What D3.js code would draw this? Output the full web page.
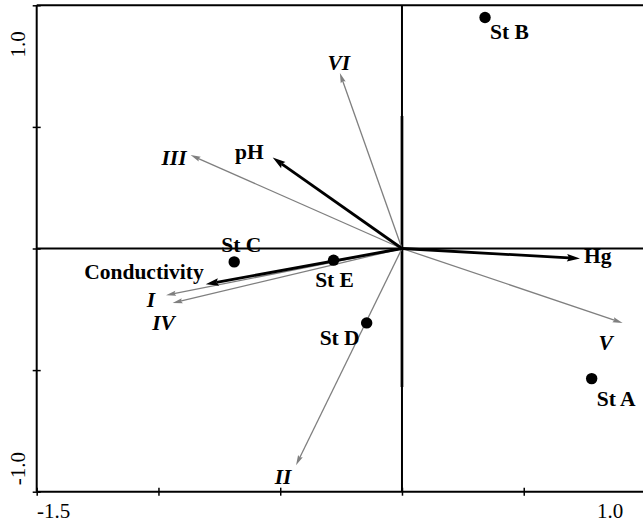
<!DOCTYPE html>
<html>
<head>
<meta charset="utf-8">
<script src="https://cdn.jsdelivr.net/npm/d3@7"></script>
<style>
  body { margin: 0; background: #fff; }
  svg { display: block; }
  text { font-family: "Liberation Serif", "Times New Roman", serif; }
  .lbl { font-weight: bold; font-size: 21.5px; }
  .sp { font-style: italic; }
  .tickLabel { font-size: 21px; }
</style>
</head>
<body>
<div id="container"></div>
<script>
// stations (sample scores)
const stations = ["St A", "St B", "St C", "St D", "St E"];
const stationX = [0.779, 0.341, -0.689, -0.145, -0.281];
const stationY = [-0.535, 0.950, -0.055, -0.306, -0.048];

// environmental variables (black arrows)
const envVars = ["Hg", "pH", "Conductivity"];
const envX = [0.731, -0.531, -0.806];
const envY = [-0.041, 0.374, -0.147];

// species (grey arrows)
const species = ["I", "II", "III", "IV", "V", "VI"];
const speciesX = [-0.969, -0.435, -0.868, -0.942, 0.906, -0.255];
const speciesY = [-0.192, -0.891, 0.384, -0.224, -0.306, 0.722];

const xTicks = [-1.5, -1.0, -0.5, 0, 0.5, 1.0];
const yTicks = [-1.0, -0.5, 0, 0.5, 1.0];
const xEndLabels = ["-1.5", "1.0"];
const yEndLabels = ["-1.0", "1.0"];

const width = 643, height = 525;

// label placement: [anchor, dx, dy] relative to the point / arrow tip
const labelPos = {
  "St A": ["start", 5, 27], "St B": ["start", 5, 22], "St C": ["middle", 7, -10],
  "St D": ["end", -7, 22], "St E": ["middle", 1, 27],
  "Hg": ["start", 4, 5], "pH": ["end", -9, 1], "Conductivity": ["end", -2, -5],
  "I": ["middle", -15, 12], "II": ["middle", -13, 19], "III": ["end", -4, 10],
  "IV": ["middle", -9, 27], "V": ["middle", -17, 27], "VI": ["middle", -1, -3]
};

const x = d3.scaleLinear().domain([-1.5, 1.0]).range([36.7, 645.5]);
const y = d3.scaleLinear().domain([-1.0, 1.0]).range([491.7, 5.3]);

const svg = d3.select("#container").append("svg")
  .attr("width", width).attr("height", height);

// frame / axes
const axisG = svg.append("g").attr("stroke", "#000").attr("fill", "none");
axisG.append("line").attr("x1", x(-1.5)).attr("x2", width).attr("y1", y(-1)).attr("y2", y(-1)).attr("stroke-width", 2);
axisG.append("line").attr("x1", x(-1.5)).attr("x2", width).attr("y1", y(1)).attr("y2", y(1)).attr("stroke-width", 2);
axisG.append("line").attr("x1", x(-1.5)).attr("x2", x(-1.5)).attr("y1", y(1)).attr("y2", y(-1)).attr("stroke-width", 2);
// zero lines
axisG.append("line").attr("x1", x(-1.5)).attr("x2", width).attr("y1", y(0)).attr("y2", y(0)).attr("stroke-width", 2);
axisG.append("line").attr("x1", x(0)).attr("x2", x(0)).attr("y1", y(1)).attr("y2", y(-1)).attr("stroke-width", 2);
axisG.append("line").attr("x1", x(0)).attr("x2", x(0)).attr("y1", y(0.545)).attr("y2", y(-0.57)).attr("stroke-width", 2.7);

// ticks crossing the axis lines
const gx = svg.append("g").attr("transform", `translate(0,${y(-1)})`)
  .call(d3.axisBottom(x).tickValues(xTicks).tickSize(4).tickFormat(""));
gx.select(".domain").remove();
gx.selectAll(".tick line").attr("y1", -4).attr("y2", 4).attr("stroke", "#000").attr("stroke-width", 1.5);

const gy = svg.append("g").attr("transform", `translate(${x(-1.5)},0)`)
  .call(d3.axisLeft(y).tickValues(yTicks).tickSize(4).tickFormat(""));
gy.select(".domain").remove();
gy.selectAll(".tick line").attr("x1", -4).attr("x2", 4).attr("stroke", "#000").attr("stroke-width", 1.5);

// end labels on the axes
svg.append("text").attr("class", "tickLabel").attr("x", x(-1.5) + 17).attr("y", 518)
  .attr("text-anchor", "middle").text(xEndLabels[0]);
svg.append("text").attr("class", "tickLabel").attr("x", 610).attr("y", 518)
  .attr("text-anchor", "middle").text(xEndLabels[1]);
svg.append("text").attr("class", "tickLabel").attr("text-anchor", "middle")
  .attr("transform", `translate(25,${y(-1) - 23}) rotate(-90)`).text(yEndLabels[0]);
svg.append("text").attr("class", "tickLabel").attr("text-anchor", "middle")
  .attr("transform", `translate(25,${y(1) + 39}) rotate(-90)`).text(yEndLabels[1]);

// arrows
function drawArrows(names, xs, ys, opt) {
  const g = svg.append("g");
  names.forEach((n, i) => {
    const x0 = x(0), y0 = y(0);
    const tx = x(xs[i]), ty = y(ys[i]);
    const ang = Math.atan2(ty - y0, tx - x0);
    const c = Math.cos(ang), s = Math.sin(ang);
    const bx = tx - c * opt.len, by = ty - s * opt.len;
    g.append("line")
      .attr("x1", x0).attr("y1", y0)
      .attr("x2", bx + c * 2).attr("y2", by + s * 2)
      .attr("stroke", opt.color).attr("stroke-width", opt.sw);
    const p = [
      [tx, ty],
      [bx - s * opt.half, by + c * opt.half],
      [bx + c * opt.notch, by + s * opt.notch],
      [bx + s * opt.half, by - c * opt.half]
    ];
    g.append("path").attr("d", "M" + p.join("L") + "Z").attr("fill", opt.color);
  });
}

drawArrows(species, speciesX, speciesY, {color: "#7f7f7f", sw: 1.3, len: 10, half: 2.6, notch: 1.5});
drawArrows(envVars, envX, envY, {color: "#000", sw: 2.8, len: 13, half: 3.8, notch: 2});

// station points
svg.append("g").selectAll("circle")
  .data(stations)
  .join("circle")
  .attr("cx", (d, i) => x(stationX[i]))
  .attr("cy", (d, i) => y(stationY[i]))
  .attr("r", 5.7)
  .attr("fill", "#000");

// labels
function drawLabels(names, xs, ys, cls) {
  svg.append("g").selectAll("text")
    .data(names)
    .join("text")
    .attr("class", cls)
    .attr("text-anchor", d => labelPos[d][0])
    .attr("x", (d, i) => x(xs[i]) + labelPos[d][1])
    .attr("y", (d, i) => y(ys[i]) + labelPos[d][2])
    .text(d => d);
}
drawLabels(species, speciesX, speciesY, "lbl sp");
drawLabels(envVars, envX, envY, "lbl");
drawLabels(stations, stationX, stationY, "lbl");
</script>
</body>
</html>
